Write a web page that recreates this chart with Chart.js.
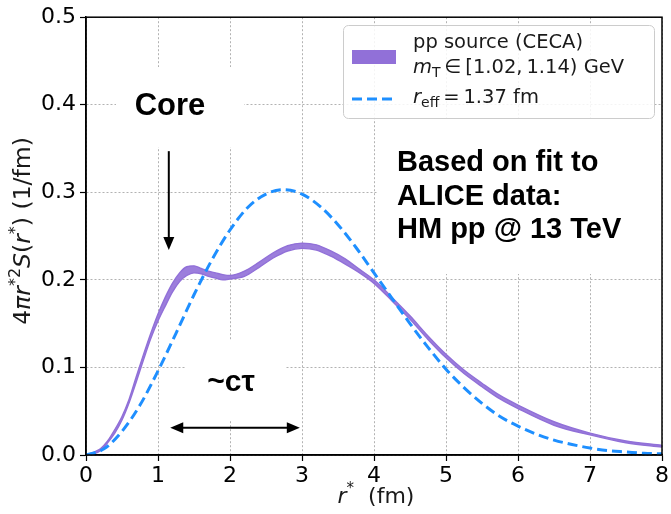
<!DOCTYPE html>
<html>
<head>
<meta charset="utf-8">
<script src="https://cdn.jsdelivr.net/npm/chart.js@4.4.0/dist/chart.umd.min.js"></script>
<style>
  html, body { margin: 0; padding: 0; background: #fff; }
  #wrap { width: 671px; height: 514px; }
</style>
</head>
<body>
<div id="wrap"><canvas id="chart" width="671" height="514"></canvas></div>
<script>
// r* grid for the CECA band (fm)
const rValues = [0, 0.1, 0.2, 0.3, 0.4, 0.5, 0.6, 0.7, 0.8, 0.9, 1.0, 1.1, 1.2, 1.3, 1.4, 1.5, 1.6, 1.7, 1.8, 1.9, 2.0,
  2.2, 2.4, 2.6, 2.8, 3.0, 3.2, 3.4, 3.6, 3.8, 4.0, 4.25, 4.5, 4.75, 5.0, 5.25, 5.5, 5.75, 6.0, 6.5, 7.0, 7.5, 8.0];
const ppUpper = [0, 0.003, 0.007, 0.016, 0.029, 0.044, 0.064, 0.090, 0.115, 0.139, 0.161, 0.180, 0.196, 0.208, 0.215, 0.216, 0.213, 0.210, 0.208, 0.206, 0.205,
  0.210, 0.220, 0.231, 0.239, 0.242, 0.240, 0.233, 0.224, 0.212, 0.200, 0.180, 0.159, 0.136, 0.115, 0.097, 0.082, 0.068, 0.057, 0.038, 0.025, 0.016, 0.011];
const ppLower = [0, 0.001, 0.005, 0.014, 0.025, 0.040, 0.060, 0.084, 0.109, 0.133, 0.153, 0.170, 0.186, 0.198, 0.205, 0.208, 0.207, 0.204, 0.202, 0.200, 0.201,
  0.204, 0.214, 0.225, 0.233, 0.236, 0.234, 0.227, 0.218, 0.208, 0.196, 0.176, 0.155, 0.132, 0.111, 0.093, 0.078, 0.064, 0.053, 0.034, 0.023, 0.014, 0.009];

// gaussian source with r_eff = 1.37 fm
const rEffR = [0, 0.25, 0.5, 0.75, 1.0, 1.25, 1.5, 1.75, 2.0, 2.25, 2.5, 2.75, 3.0, 3.25, 3.5, 3.75, 4.0,
  4.25, 4.5, 4.75, 5.0, 5.25, 5.5, 5.75, 6.0, 6.25, 6.5, 6.75, 7.0, 7.25, 7.5, 7.75, 8.0];
const rEffValues = [0, 0.007, 0.027, 0.057, 0.096, 0.139, 0.183, 0.223, 0.257, 0.283, 0.298, 0.303, 0.298, 0.284, 0.263, 0.237, 0.208,
  0.179, 0.150, 0.123, 0.098, 0.077, 0.059, 0.044, 0.033, 0.024, 0.017, 0.012, 0.008, 0.005, 0.0035, 0.002, 0.0014];

const xTicks = [0, 1, 2, 3, 4, 5, 6, 7, 8];
const yTicks = [0.0, 0.1, 0.2, 0.3, 0.4, 0.5];

const PURPLE = "rgb(145, 112, 216)";
const BLUE = "#1e8fff";
const FONT = "'DejaVu Sans'";
const BOLD = "bold {s}px 'Liberation Sans', Arial, sans-serif";

function toXY(xs, ys) {
  return xs.map((x, i) => ({ x: x, y: ys[i] }));
}

// draw a run of text pieces with their own font / vertical offset
function drawRich(ctx, parts, x, y, align) {
  let w = 0;
  parts.forEach(p => { ctx.font = p.f; w += ctx.measureText(p.t).width; });
  let cx = align === "center" ? x - w / 2 : x;
  parts.forEach(p => {
    ctx.font = p.f;
    ctx.fillText(p.t, cx, y + (p.dy || 0));
    cx += ctx.measureText(p.t).width;
  });
}

function arrowHead(ctx, x, y, dx, dy) {
  // tip at (x,y), pointing along (dx,dy)
  const len = 13, half = 5.5;
  const bx = x - dx * len, by = y - dy * len;
  ctx.beginPath();
  ctx.moveTo(x, y);
  ctx.lineTo(bx - dy * half, by + dx * half);
  ctx.lineTo(bx + dy * half, by - dx * half);
  ctx.closePath();
  ctx.fill();
}

const extras = {
  id: "extras",
  beforeDatasetsDraw(chart) {
    // white backgrounds of the text boxes hide the grid
    const ctx = chart.ctx;
    ctx.save();
    ctx.fillStyle = "#fff";
    ctx.fillRect(116, 67, 128, 80);
    ctx.fillRect(378, 118, 284, 156);
    ctx.fillRect(186, 340, 100, 80);
    ctx.restore();
  },
  afterDatasetsDraw(chart) {
    const ctx = chart.ctx;
    const a = chart.chartArea;
    const sx = chart.scales.x, sy = chart.scales.y;
    ctx.save();
    ctx.strokeStyle = "#000";
    ctx.lineWidth = 1.5;
    ctx.strokeRect(a.left, a.top, a.right - a.left, a.bottom - a.top);

    ctx.fillStyle = "#000";
    ctx.textBaseline = "middle";

    // Core label + arrow
    ctx.textAlign = "center";
    ctx.font = BOLD.replace("{s}", 31);
    ctx.fillText("Core", 170, 106);
    const ax = sx.getPixelForValue(1.15);
    const ay1 = sy.getPixelForValue(0.347), ay2 = sy.getPixelForValue(0.234);
    ctx.lineWidth = 2;
    ctx.beginPath();
    ctx.moveTo(ax, ay1);
    ctx.lineTo(ax, ay2 - 10);
    ctx.stroke();
    arrowHead(ctx, ax, ay2, 0, 1);

    // ~c tau label + double arrow
    ctx.font = BOLD.replace("{s}", 30);
    ctx.fillText("~cτ", 231, 383);
    const hy = sy.getPixelForValue(0.031);
    const hx1 = sx.getPixelForValue(1.17), hx2 = sx.getPixelForValue(2.97);
    ctx.beginPath();
    ctx.moveTo(hx1 + 10, hy);
    ctx.lineTo(hx2 - 10, hy);
    ctx.stroke();
    arrowHead(ctx, hx1, hy, -1, 0);
    arrowHead(ctx, hx2, hy, 1, 0);

    // data note
    ctx.textAlign = "left";
    ctx.font = BOLD.replace("{s}", 29);
    ctx.fillText("Based on fit to", 397, 163);
    ctx.fillText("ALICE data:", 397, 197);
    ctx.fillText("HM pp @ 13 TeV", 397, 230);
    ctx.restore();
  },
  afterDraw(chart) {
    const ctx = chart.ctx;
    ctx.save();
    // legend
    ctx.fillStyle = "rgba(255,255,255,0.85)";
    ctx.strokeStyle = "#cccccc";
    ctx.lineWidth = 1;
    ctx.beginPath();
    ctx.roundRect(343.5, 25.5, 311, 93, 5);
    ctx.fill();
    ctx.stroke();
    ctx.fillStyle = PURPLE;
    ctx.fillRect(352, 50, 44, 14);
    ctx.strokeStyle = BLUE;
    ctx.lineWidth = 3;
    ctx.setLineDash([10, 5]);
    ctx.beginPath();
    ctx.moveTo(352, 99);
    ctx.lineTo(397, 99);
    ctx.stroke();
    ctx.setLineDash([]);

    const S = 19.5;
    const n = S + "px " + FONT, it = "italic " + S + "px " + FONT, sm = Math.round(S * 0.7) + "px " + FONT;
    ctx.fillStyle = "#1a1a1a";
    ctx.textBaseline = "middle";
    ctx.textAlign = "left";
    ctx.font = n;
    ctx.fillText("pp source (CECA)", 413, 43);
    drawRich(ctx, [
      { t: "m", f: it }, { t: "T", f: sm, dy: 5 }, { t: "\u2009\u2208\u2009", f: n },
      { t: "[1.02,\u20091.14)", f: n }, { t: " GeV", f: n }
    ], 413, 68, "left");
    drawRich(ctx, [
      { t: "r", f: it }, { t: "eff", f: sm, dy: 5 }, { t: "\u2009=\u20091.37", f: n }, { t: " fm", f: n }
    ], 413, 98, "left");

    // axis titles
    const T = 22;
    const tn = T + "px " + FONT, ti = "italic " + T + "px " + FONT, ts = Math.round(T * 0.7) + "px " + FONT;
    drawRich(ctx, [
      { t: "r", f: ti }, { t: "*", f: ts, dy: -8 }, { t: "  (fm)", f: tn }
    ], 376, 497, "center");
    const Y = 23.5;
    const yn = Y + "px " + FONT, yi = "italic " + Y + "px " + FONT, ys = Math.round(Y * 0.7) + "px " + FONT;
    ctx.translate(24, 231);
    ctx.rotate(-Math.PI / 2);
    drawRich(ctx, [
      { t: "4", f: yn }, { t: "π", f: yi }, { t: "r", f: yi }, { t: "*2", f: ys, dy: -8 },
      { t: "S", f: yi }, { t: "(", f: yn }, { t: "r", f: yi }, { t: "*", f: ys, dy: -8 },
      { t: ")", f: yn }, { t: " (1/fm)", f: yn }
    ], 0, 0, "center");
    ctx.restore();
  }
};

const gridOpts = {
  color: "rgba(0,0,0,0.3)",
  lineWidth: 1,
  tickColor: "#000",
  tickBorderDash: [],
  tickLength: 6,
  tickWidth: 1.2
};
const borderOpts = { display: true, color: "#000", width: 1.5, dash: [2, 2] };

new Chart(document.getElementById("chart"), {
  type: "line",
  data: {
    datasets: [
      {
        label: "r_eff = 1.37 fm",
        data: toXY(rEffR, rEffValues),
        borderColor: BLUE,
        borderWidth: 3,
        borderDash: [10, 5],
        pointRadius: 0,
        fill: false,
        cubicInterpolationMode: "monotone",
        order: 0
      },
      {
        label: "pp source lower",
        data: toXY(rValues, ppLower),
        borderColor: PURPLE,
        borderWidth: 1.4,
        pointRadius: 0,
        fill: false,
        cubicInterpolationMode: "monotone",
        order: 1
      },
      {
        label: "pp source (CECA)",
        data: toXY(rValues, ppUpper),
        borderColor: PURPLE,
        borderWidth: 1.4,
        backgroundColor: "rgba(145, 112, 216, 0.9)",
        pointRadius: 0,
        fill: "-1",
        cubicInterpolationMode: "monotone",
        order: 1
      }
    ]
  },
  options: {
    responsive: false,
    animation: false,
    layout: { padding: { top: 14, right: 6, left: 0, bottom: 0 } },
    plugins: { legend: { display: false }, tooltip: { enabled: false } },
    scales: {
      x: {
        type: "linear",
        min: 0,
        max: 8,
        afterBuildTicks: s => { s.ticks = xTicks.map(v => ({ value: v })); },
        afterFit: s => { s.height = 59; },
        ticks: { color: "#000", font: { family: "DejaVu Sans", size: 22 }, padding: 2, maxRotation: 0 },
        grid: gridOpts,
        border: borderOpts
      },
      y: {
        min: 0,
        max: 0.5,
        afterBuildTicks: s => { s.ticks = yTicks.map(v => ({ value: v })); },
        afterFit: s => { s.width = 86; },
        ticks: { color: "#000", font: { family: "DejaVu Sans", size: 22 }, padding: 4, callback: v => v.toFixed(1) },
        grid: gridOpts,
        border: borderOpts
      }
    }
  },
  plugins: [extras]
});
</script>
</body>
</html>
